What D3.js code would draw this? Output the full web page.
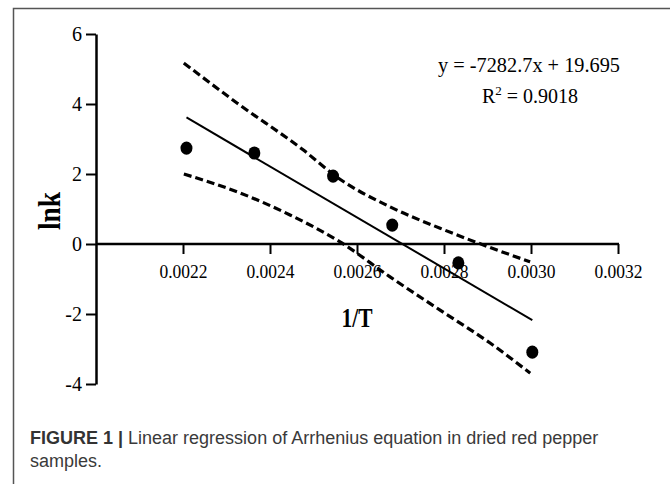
<!DOCTYPE html>
<html>
<head>
<meta charset="utf-8">
<script src="https://cdn.jsdelivr.net/npm/d3@7"></script>
<style>
  html, body { margin: 0; padding: 0; background: #fff; }
  svg { display: block; }
</style>
</head>
<body>
<svg id="chart" width="670" height="484"></svg>
<script>
// ---- data ----
const invT = [0.002208, 0.002364, 0.002545, 0.002681, 0.002833, 0.003003];
const lnk  = [2.74, 2.60, 1.94, 0.54, -0.54, -3.09];

const slope = -7282.7;
const intercept = 19.695;
const equationText = "y = -7282.7x + 19.695";
const r2Text = "0.9018";

const upperX = [0.002202, 0.002324, 0.002476, 0.002554, 0.002676, 0.002791, 0.002906, 0.002998];
const upperY = [5.17, 4.03, 2.69, 1.91, 1.06, 0.45, -0.10, -0.51];
const lowerX = [0.002202, 0.002331, 0.002446, 0.002561, 0.002676, 0.002791, 0.002906, 0.002998];
const lowerY = [2.00, 1.46, 0.83, 0.06, -0.94, -1.89, -2.83, -3.69];

const xTicks = [0.0022, 0.0024, 0.0026, 0.0028, 0.0030, 0.0032];
const yTicks = [-4, -2, 0, 2, 4, 6];
const xTitle = "1/T";
const yTitle = "lnk";
const captionBold = "FIGURE 1 |";
const captionLine1 = " Linear regression of Arrhenius equation in dried red pepper";
const captionLine2 = "samples.";

// ---- drawing ----
const svg = d3.select("#chart");
const serif = "'Liberation Serif', 'Times New Roman', serif";
const sans = "'Liberation Sans', Arial, sans-serif";

// figure frame (left + top rule)
svg.append("path")
  .attr("d", "M13.5,484 L13.5,8.5 L670,8.5")
  .attr("fill", "none").attr("stroke", "#555").attr("stroke-width", 1.5);

const x = d3.scaleLinear().domain([0.0020, 0.0032]).range([96, 618]);
const y = d3.scaleLinear().domain([-4, 6]).range([384, 34]);

// x axis at y = 0
const xAxis = svg.append("g").attr("transform", `translate(0,${y(0)})`)
  .call(d3.axisBottom(x).tickValues(xTicks).tickFormat(d3.format(".4f"))
        .tickSize(10).tickSizeOuter(0).tickPadding(11));
xAxis.select(".domain").attr("stroke", "#000").attr("stroke-width", 2.5)
  .attr("d", `M${x(0.0020)},0H${x(0.0032) + 1}`);
xAxis.selectAll(".tick line").attr("stroke", "#000").attr("stroke-width", 2);
xAxis.selectAll(".tick text").attr("font-family", serif).attr("font-size", 19)
  .attr("fill", "#000").attr("textLength", 48).attr("lengthAdjust", "spacingAndGlyphs");

// y axis
const yAxis = svg.append("g").attr("transform", `translate(${x(0.0020)},0)`)
  .call(d3.axisLeft(y).tickValues(yTicks).tickFormat(d3.format("d"))
        .tickSize(10).tickSizeOuter(0).tickPadding(4));
yAxis.select(".domain").attr("stroke", "#000").attr("stroke-width", 2.5);
yAxis.selectAll(".tick line").attr("stroke", "#000").attr("stroke-width", 2);
yAxis.selectAll(".tick text").attr("font-family", serif).attr("font-size", 20)
  .attr("fill", "#000").text(d => d < 0 ? "-" + Math.abs(d) : d);

// axis titles
svg.append("text").attr("x", 357).attr("y", 327).attr("text-anchor", "middle")
  .attr("font-family", serif).attr("font-weight", "bold").attr("font-size", 27)
  .attr("textLength", 31).attr("lengthAdjust", "spacingAndGlyphs")
  .text(xTitle);
svg.append("text").attr("transform", "translate(60,211) rotate(-90)")
  .attr("text-anchor", "middle")
  .attr("font-family", serif).attr("font-weight", "bold").attr("font-size", 31)
  .attr("textLength", 38).attr("lengthAdjust", "spacingAndGlyphs")
  .text(yTitle);

// confidence bands
const band = d3.line().x(d => x(d[0])).y(d => y(d[1])).curve(d3.curveMonotoneX);
[[upperX, upperY], [lowerX, lowerY]].forEach(([bx, by]) => {
  svg.append("path").datum(bx.map((v, i) => [v, by[i]]))
    .attr("d", band).attr("fill", "none").attr("stroke", "#000")
    .attr("stroke-width", 3.2).attr("stroke-dasharray", "8,4");
});

// regression line
const xr = d3.extent(invT);
svg.append("line")
  .attr("x1", x(xr[0])).attr("y1", y(slope * xr[0] + intercept))
  .attr("x2", x(xr[1])).attr("y2", y(slope * xr[1] + intercept))
  .attr("stroke", "#000").attr("stroke-width", 2);

// data points
svg.append("g").selectAll("ellipse").data(invT).join("ellipse")
  .attr("cx", d => x(d)).attr("cy", (d, i) => y(lnk[i]))
  .attr("rx", 6).attr("ry", 6.6).attr("fill", "#000");

// equation
svg.append("text").attr("x", 529).attr("y", 72).attr("text-anchor", "middle")
  .attr("font-family", serif).attr("font-size", 20)
  .attr("textLength", 182).attr("lengthAdjust", "spacingAndGlyphs")
  .text(equationText);
const r2 = svg.append("text").attr("x", 530).attr("y", 103).attr("text-anchor", "middle")
  .attr("font-family", serif).attr("font-size", 20);
r2.append("tspan").text("R");
r2.append("tspan").attr("font-size", 13).attr("dy", -8).text("2");
r2.append("tspan").attr("dy", 8).text(" = " + r2Text);

// caption
const cap = svg.append("text").attr("x", 30).attr("y", 444)
  .attr("font-family", sans).attr("font-size", 18).attr("fill", "#3a3a3a");
cap.append("tspan").attr("font-weight", "bold").attr("fill", "#333").text(captionBold);
cap.append("tspan").text(captionLine1);
svg.append("text").attr("x", 30).attr("y", 467)
  .attr("font-family", sans).attr("font-size", 18).attr("fill", "#3a3a3a")
  .text(captionLine2);
</script>
</body>
</html>
